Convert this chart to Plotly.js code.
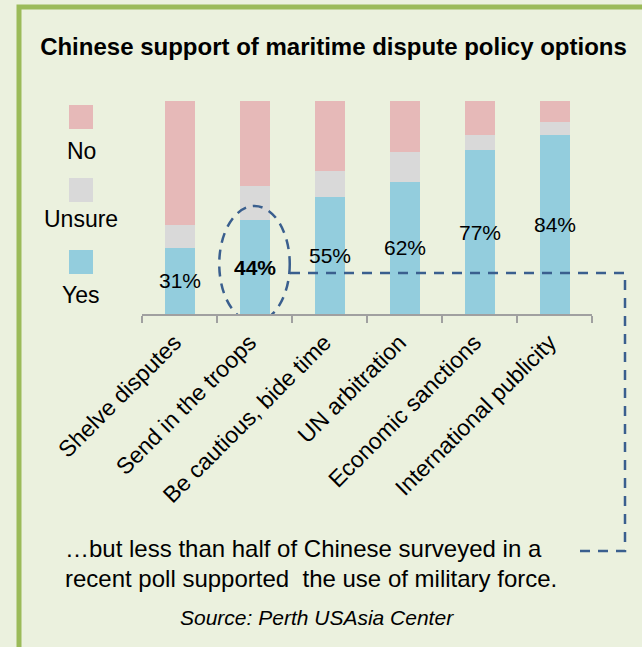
<!DOCTYPE html>
<html>
<head>
<meta charset="utf-8">
<script src="https://cdn.plot.ly/plotly-3.0.1.min.js"></script>
<style>html,body{margin:0;padding:0;background:#EBF1DE;}#chart{width:642px;height:647px;}</style>
</head>
<body>
<div id="chart"></div>
<script>
// ---- data ----
const categories = ["Shelve disputes", "Send in the troops", "Be cautious, bide time", "UN arbitration", "Economic sanctions", "International publicity"];
const yesValues = [31, 44, 55, 62, 77, 84];
const unsureValues = [11, 16, 12, 14, 7, 6];
const noValues = [58, 40, 33, 24, 16, 10];
const seriesNames = ["Yes", "Unsure", "No"];
const yesLabels = ["31%", "44%", "55%", "62%", "77%", "84%"];
const highlightIndex = 1;
const titleText = "Chinese support of maritime dispute policy options";
const noteLines = ["…but less than half of Chinese surveyed in a", "recent poll supported  the use of military force."];
const sourceText = "Source: Perth USAsia Center";

// ---- styling ----
const FONT = "Arial, 'Liberation Sans', sans-serif";
const colors = {Yes: "#93CDDD", Unsure: "#D9D9D9", No: "#E6B9B8"};
const BG = "#EBF1DE";
const BORDER = "#9BBB59";
const DASH = "#3A5F8E";

// plot area geometry (pixels)
const L = 142, R = 592, T = 101, B = 314;
const W = 642, H = 647;
const px = v => (v - L) / (R - L);
const py = v => (B - v) / (B - T);

const valuesBySeries = {Yes: yesValues, Unsure: unsureValues, No: noValues};
const traces = seriesNames.map(name => ({
  type: "bar",
  name: name,
  x: categories,
  y: valuesBySeries[name],
  marker: {color: colors[name], line: {width: 0}},
  hoverinfo: "x+y+name"
}));

const annotations = [];
// percentage labels, centred in the Yes segment
categories.forEach((c, i) => {
  annotations.push({
    xref: "x", yref: "y", x: c, y: yesValues[i] / 2,
    text: i === highlightIndex ? "<b>" + yesLabels[i] + "</b>" : yesLabels[i],
    showarrow: false, xanchor: "center", yanchor: "middle",
    font: {family: FONT, size: 21, color: "#000"}
  });
});

// custom vertical legend: swatch above label
const legendItems = [
  {name: "No", sq: 105, ty: 151},
  {name: "Unsure", sq: 178, ty: 219},
  {name: "Yes", sq: 250, ty: 295}
];
const shapes = [];
shapes.push({type: "rect", xref: "paper", yref: "paper", layer: "below",
  x0: px(19), x1: px(720), y0: py(720), y1: py(7),
  line: {color: BORDER, width: 5}, fillcolor: "rgba(0,0,0,0)"});
legendItems.forEach(it => {
  shapes.push({type: "rect", xref: "paper", yref: "paper",
    x0: px(69), x1: px(93), y0: py(it.sq + 24), y1: py(it.sq),
    line: {width: 0}, fillcolor: colors[it.name]});
  annotations.push({xref: "paper", yref: "paper", x: px(81), y: py(it.ty),
    text: it.name, showarrow: false, xanchor: "center", yanchor: "middle",
    font: {family: FONT, size: 23, color: "#000"}});
});

// dashed ellipse around highlighted bar
shapes.push({type: "circle", xref: "x", yref: "y",
  x0: highlightIndex - 0.47, x1: highlightIndex + 0.47,
  y0: -3.8, y1: 50.7,
  line: {color: DASH, width: 2.5, dash: "10px,7px"}, fillcolor: "rgba(0,0,0,0)"});
// dashed connector to the note
shapes.push({type: "path", xref: "paper", yref: "paper",
  path: "M " + px(290) + "," + py(273) + " L " + px(625) + "," + py(273) +
        " L " + px(625) + "," + py(551) + " L " + px(577) + "," + py(551),
  line: {color: DASH, width: 2.5, dash: "10px,8px"}});

// note text + source
annotations.push({xref: "paper", yref: "paper", x: px(63), y: py(548),
  text: noteLines[0], showarrow: false, xanchor: "left", yanchor: "middle",
  font: {family: FONT, size: 24, color: "#000"}});
annotations.push({xref: "paper", yref: "paper", x: px(63), y: py(578),
  text: noteLines[1], showarrow: false, xanchor: "left", yanchor: "middle",
  font: {family: FONT, size: 24, color: "#000"}});
annotations.push({xref: "paper", yref: "paper", x: px(317), y: py(617),
  text: "<i>" + sourceText + "</i>", showarrow: false, xanchor: "center", yanchor: "middle",
  font: {family: FONT, size: 21, color: "#000"}});

const layout = {
  width: W, height: H,
  paper_bgcolor: BG, plot_bgcolor: BG,
  margin: {l: L, r: W - R, t: T, b: H - B, pad: 0},
  barmode: "stack",
  bargap: 0.6,
  showlegend: false,
  title: {text: "<b>" + titleText + "</b>", x: 333.5 / W, y: 1 - 47 / H,
    xanchor: "center", yanchor: "middle", xref: "container", yref: "container",
    font: {family: FONT, size: 24, color: "#000"}},
  xaxis: {
    type: "category",
    showline: true, linecolor: "#A0A0A0", linewidth: 2,
    ticks: "outside", tickson: "boundaries", ticklen: 7, tickcolor: "#A0A0A0", tickwidth: 2,
    tickangle: -45,
    ticklabelstandoff: 4, ticklabelshift: -5,
    tickfont: {family: FONT, size: 23, color: "#000"},
    showgrid: false, zeroline: false, fixedrange: true
  },
  yaxis: {range: [0, 100], visible: false, fixedrange: true},
  shapes: shapes,
  annotations: annotations
};

Plotly.newPlot("chart", traces, layout, {displayModeBar: false, staticPlot: true});
</script>
</body>
</html>
